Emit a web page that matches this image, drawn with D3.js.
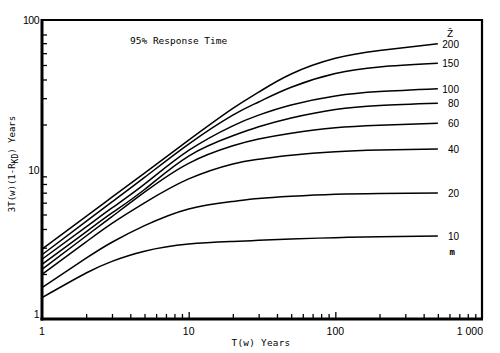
<!DOCTYPE html>
<html>
<head>
<meta charset="utf-8">
<script src="https://cdn.jsdelivr.net/npm/d3@7"></script>
<style>
  body { margin: 0; background: #fff; }
  svg text { fill: #000; }
</style>
</head>
<body>
<div id="chart"></div>
<script>
// DATA
let t_values = [1, 2, 3, 5, 10, 20, 30, 50, 100, 200, 500];

let z_labels = ["200", "150", "100", "80", "60", "40", "20", "10"];

let z200 = [2.93, 4.86, 6.53, 9.45, 15.7, 25.6, 32.9, 43.5, 55.4, 62.5, 69.4];
let z150 = [2.69, 4.5, 6.07, 8.85, 14.8, 23.1, 28.3, 35.5, 43.8, 48.5, 51.3];
let z100 = [2.51, 4.13, 5.53, 7.98, 13.4, 19.6, 23.1, 27.0, 31.0, 33.2, 34.7];
let z80 = [2.32, 3.83, 5.12, 7.35, 12.3, 16.8, 19.3, 22.1, 25.2, 26.8, 27.7];
let z60 = [2.15, 3.59, 4.84, 7.05, 11.0, 14.4, 16.0, 17.5, 19.05, 19.8, 20.4];
let z40 = [1.99, 3.28, 4.36, 5.98, 8.65, 10.9, 11.7, 12.45, 13.15, 13.5, 13.7];
let z20 = [1.62, 2.55, 3.26, 4.21, 5.45, 6.12, 6.4, 6.62, 6.83, 6.92, 6.95];
let z10 = [1.39, 2.03, 2.43, 2.84, 3.17, 3.3, 3.36, 3.43, 3.5, 3.55, 3.59];

let series = [z200, z150, z100, z80, z60, z40, z20, z10];

let x_tick_labels = [1, 10, 100, 1000];
let x_minor = [2, 3, 4, 5, 6, 7, 8, 9, 20, 30, 40, 50, 60, 70, 80, 90, 200, 300, 400, 500, 600, 700, 800, 900];
let y_tick_labels = [1, 10, 100];
let y_minor = [2, 3, 4, 5, 6, 7, 8, 9, 20, 30, 40, 50, 60, 70, 80];

// CHART AREA
let W = 500, H = 353;
let svg = d3.select("#chart").append("svg")
    .attr("width", W)
    .attr("height", H);

// SCALES
let x_scale = d3.scaleLog().domain([1, 1000]).range([42, 482]);
let y_scale = d3.scaleLog().domain([1, 100]).range([319, 20]);

// FRAME
svg.append("line")
    .attr("x1", x_scale(1)).attr("x2", x_scale(1000))
    .attr("y1", y_scale(100)).attr("y2", y_scale(100))
    .attr("stroke", "#000").attr("stroke-width", 2);
svg.append("line")
    .attr("x1", x_scale(1000)).attr("x2", x_scale(1000))
    .attr("y1", y_scale(100) - 1).attr("y2", y_scale(1))
    .attr("stroke", "#000").attr("stroke-width", 2.2);

// AXIS
let xAxis = d3.axisTop(x_scale)
    .tickValues(x_minor)
    .tickSize(5)
    .tickFormat("");
let xAxisMajor = d3.axisTop(x_scale)
    .tickValues([10, 100])
    .tickSize(7)
    .tickFormat("");
let yAxis = d3.axisRight(y_scale)
    .tickValues(y_minor)
    .tickSize(5)
    .tickFormat("");

let gx = svg.append("g").attr("transform", "translate(0," + y_scale(1) + ")").call(xAxis);
let gx2 = svg.append("g").attr("transform", "translate(0," + y_scale(1) + ")").call(xAxisMajor);
let gy = svg.append("g").attr("transform", "translate(" + x_scale(1) + ",0)").call(yAxis);

[gx, gx2, gy].forEach(g => {
    g.select(".domain").remove();
    g.selectAll(".tick line").attr("stroke", "#000").attr("stroke-width", 1.3);
});

// axis lines (thick)
svg.append("line")
    .attr("x1", x_scale(1)).attr("x2", x_scale(1))
    .attr("y1", y_scale(100) - 1).attr("y2", y_scale(1) + 1.5)
    .attr("stroke", "#000").attr("stroke-width", 3);
svg.append("line")
    .attr("x1", x_scale(1) - 1.5).attr("x2", x_scale(1000) + 1)
    .attr("y1", y_scale(1)).attr("y2", y_scale(1))
    .attr("stroke", "#000").attr("stroke-width", 3);

// tick labels
svg.selectAll(".xlab")
    .data(x_tick_labels)
    .enter().append("text")
    .attr("class", "xlab")
    .attr("x", d => d === 1000 ? x_scale(d) + 1 : x_scale(d))
    .attr("y", 335)
    .attr("text-anchor", d => d === 1000 ? "end" : "middle")
    .style("font-family", "Liberation Sans, Arial, sans-serif")
    .style("font-size", "10.5px")
    .text(d => d === 1000 ? "1 000" : d);

svg.selectAll(".ylab")
    .data(y_tick_labels)
    .enter().append("text")
    .attr("class", "ylab")
    .attr("x", 39)
    .attr("y", d => d === 1 ? y_scale(d) - 1 : y_scale(d) + 4)
    .attr("text-anchor", "end")
    .style("font-family", "Liberation Sans, Arial, sans-serif")
    .style("font-size", "10.5px")
    .style("letter-spacing", "-0.5px")
    .text(d => d);

// CURVES
let line = d3.line()
    .x((d, i) => x_scale(t_values[i]))
    .y(d => y_scale(d))
    .curve(d3.curveNatural);

svg.selectAll(".curve")
    .data(series)
    .enter().append("path")
    .attr("class", "curve")
    .attr("d", line)
    .attr("fill", "none")
    .attr("stroke", "#000")
    .attr("stroke-width", 1.5);

// curve labels
svg.selectAll(".zlab")
    .data(series)
    .enter().append("text")
    .attr("class", "zlab")
    .attr("x", 459)
    .attr("y", d => y_scale(d[d.length - 1]) + 4)
    .attr("text-anchor", "end")
    .style("font-family", "Liberation Sans, Arial, sans-serif")
    .style("font-size", "10px")
    .text((d, i) => z_labels[i]);

svg.append("text")
    .attr("x", 450).attr("y", 37)
    .attr("text-anchor", "middle")
    .style("font-family", "DejaVu Sans, sans-serif")
    .style("font-size", "9px")
    .text("Z\u0304");

svg.append("text")
    .attr("x", 455).attr("y", 255)
    .attr("text-anchor", "end")
    .style("font-family", "DejaVu Sans Mono, monospace")
    .style("font-size", "9px")
    .style("font-weight", "bold")
    .text("m");

// TITLES
svg.append("text")
    .attr("x", 130).attr("y", 44)
    .style("font-family", "DejaVu Sans Mono, monospace")
    .style("font-size", "9.5px")
    .text("95% Response Time");

svg.append("text")
    .attr("x", 261).attr("y", 346)
    .attr("text-anchor", "middle")
    .style("font-family", "DejaVu Sans Mono, monospace")
    .style("font-size", "9.3px")
    .style("letter-spacing", "0.3px")
    .text("T(w) Years");

let ytitle = svg.append("text")
    .attr("transform", "translate(15,164) rotate(-90)")
    .attr("text-anchor", "middle")
    .style("font-family", "DejaVu Sans Mono, monospace")
    .style("font-size", "9px");
ytitle.append("tspan").text("3T(w)(1-R");
ytitle.append("tspan").attr("dy", 3).style("font-size", "8px").text("KD");
ytitle.append("tspan").attr("dy", -3).text(") Years");
</script>
</body>
</html>
